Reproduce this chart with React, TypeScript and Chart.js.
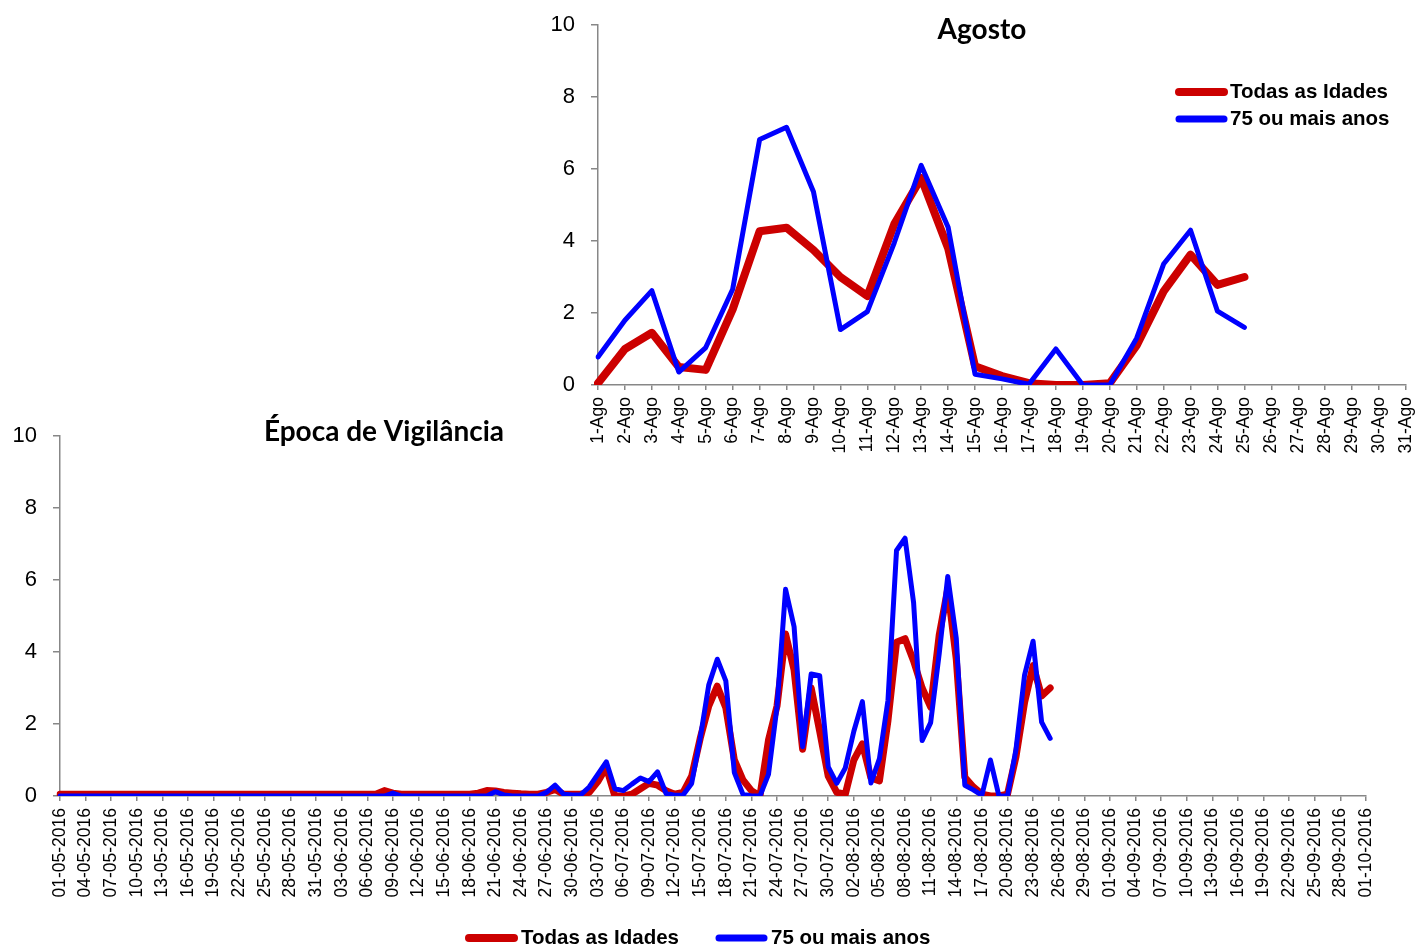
import React, { useEffect, useRef } from 'react';
import { Chart, registerables } from 'chart.js';

Chart.register(...registerables);

// ---------- data ----------
const SERIES_NAMES = ['Todas as Idades', '75 ou mais anos'];

const AUG_LABELS = [
  '1-Ago', '2-Ago', '3-Ago', '4-Ago', '5-Ago', '6-Ago', '7-Ago', '8-Ago', '9-Ago', '10-Ago',
  '11-Ago', '12-Ago', '13-Ago', '14-Ago', '15-Ago', '16-Ago', '17-Ago', '18-Ago', '19-Ago', '20-Ago',
  '21-Ago', '22-Ago', '23-Ago', '24-Ago', '25-Ago', '26-Ago', '27-Ago', '28-Ago', '29-Ago', '30-Ago', '31-Ago',
];

const AUG_TODAS = [
  0.05, 1.0, 1.45, 0.5, 0.42, 2.1, 4.27, 4.37, 3.75, 3.0,
  2.47, 4.47, 5.75, 3.8, 0.52, 0.25, 0.05, 0.0, 0.0, 0.05,
  1.1, 2.6, 3.62, 2.78, 3.0,
];

const AUG_75 = [
  0.78, 1.8, 2.62, 0.36, 1.04, 2.66, 6.82, 7.16, 5.37, 1.54,
  2.04, 3.95, 6.1, 4.38, 0.3, 0.17, 0.02, 1.0, 0.0, 0.0,
  1.3, 3.36, 4.3, 2.05, 1.6,
];

// 01-05-2016 .. 31-07-2016 (before August)
const PRE_AUG_TODAS = [
  0.05, 0.05, 0.05, 0.05, 0.05, 0.05, 0.05, 0.05, 0.05, 0.05,
  0.05, 0.05, 0.05, 0.05, 0.05, 0.05, 0.05, 0.05, 0.05, 0.05,
  0.05, 0.05, 0.05, 0.05, 0.05, 0.05, 0.05, 0.05, 0.05, 0.05,
  0.05, 0.05, 0.05, 0.05, 0.05, 0.05, 0.05, 0.05, 0.15, 0.08,
  0.05, 0.05, 0.05, 0.05, 0.05, 0.05, 0.05, 0.05, 0.05, 0.08,
  0.15, 0.14, 0.1, 0.08, 0.06, 0.05, 0.05, 0.1, 0.18, 0.05,
  0.05, 0.05, 0.1, 0.4, 0.8, 0.0, 0.0, 0.05, 0.2, 0.35,
  0.3, 0.15, 0.05, 0.1, 0.55, 1.6, 2.5, 3.05, 2.45, 1.0,
  0.45, 0.15, 0.0, 1.55, 2.5, 4.5, 3.5, 1.3, 3.0, 1.8,
  0.55, 0.1,
];

const PRE_AUG_75 = [
  0, 0, 0, 0, 0, 0, 0, 0, 0, 0,
  0, 0, 0, 0, 0, 0, 0, 0, 0, 0,
  0, 0, 0, 0, 0, 0, 0, 0, 0, 0,
  0, 0, 0, 0, 0, 0, 0, 0, 0, 0.08,
  0, 0, 0, 0, 0, 0, 0, 0, 0, 0,
  0, 0.12, 0.03, 0, 0, 0, 0, 0.1, 0.3, 0.05,
  0.03, 0.03, 0.25, 0.6, 0.95, 0.2, 0.15, 0.33, 0.5, 0.4,
  0.67, 0.07, 0.02, 0.03, 0.35, 1.6, 3.08, 3.8, 3.2, 0.65,
  0.05, 0, 0, 0.6, 2.48, 5.74, 4.7, 1.37, 3.39, 3.34,
  0.81, 0.35,
];

const SEASON_TODAS = [...PRE_AUG_TODAS, ...AUG_TODAS];
const SEASON_75 = [...PRE_AUG_75, ...AUG_75];

// daily category labels 01-05-2016 .. 01-10-2016
const SEASON_LABELS: string[] = (() => {
  const out: string[] = [];
  const d = new Date(Date.UTC(2016, 4, 1));
  const end = Date.UTC(2016, 9, 1);
  while (d.getTime() <= end) {
    const dd = String(d.getUTCDate()).padStart(2, '0');
    const mm = String(d.getUTCMonth() + 1).padStart(2, '0');
    out.push(`${dd}-${mm}-${d.getUTCFullYear()}`);
    d.setUTCDate(d.getUTCDate() + 1);
  }
  return out;
})();

const Y_MIN = 0;
const Y_MAX = 10;
const Y_STEP = 2;

// ---------- styles ----------
const RED = '#CC0000';
const BLUE = '#0000FF';
const AXIS = '#878787';
const SANS = "'Liberation Sans', Arial, sans-serif";
const TITLE_FAMILY = "Lato, 'Open Sans', sans-serif";
const TOP_SHIFT = 20; // top canvas starts this many px above the page

const placedTitle = {
  id: 'placedTitle',
  afterDraw(chart: any, _a: any, opts: any) {
    if (!opts || !opts.text) return;
    const ctx = chart.ctx;
    ctx.save();
    ctx.font = opts.font;
    ctx.fillStyle = '#000';
    ctx.textAlign = 'center';
    ctx.textBaseline = 'middle';
    ctx.fillText(opts.text, opts.x, opts.y);
    ctx.restore();
  },
};

const keyLegend = {
  id: 'keyLegend',
  afterDatasetsDraw(chart: any, _a: any, opts: any) {
    if (!opts || !opts.display) return;
    const ctx = chart.ctx;
    ctx.save();
    ctx.font = opts.font;
    ctx.textAlign = 'left';
    ctx.textBaseline = 'middle';
    chart.data.datasets.forEach((ds: any, i: number) => {
      const x = opts.x + i * opts.colGap;
      const y = opts.y + i * opts.rowGap;
      ctx.strokeStyle = ds.borderColor;
      ctx.lineWidth = ds.keyWidth;
      ctx.lineCap = 'round';
      ctx.beginPath();
      ctx.moveTo(x, y);
      ctx.lineTo(x + opts.lineLength, y);
      ctx.stroke();
      ctx.fillStyle = '#000';
      ctx.fillText(ds.label, x + opts.lineLength + opts.gap, y);
    });
    ctx.restore();
  },
};

function makeDatasets(red: number[], blue: number[], redWidth: number, blueWidth: number) {
  return [
    {
      label: SERIES_NAMES[0], data: red, borderColor: RED, backgroundColor: RED,
      borderWidth: redWidth, keyWidth: 8, order: 1,
    },
    {
      label: SERIES_NAMES[1], data: blue, borderColor: BLUE, backgroundColor: BLUE,
      borderWidth: blueWidth, keyWidth: 7, order: 0,
    },
  ];
}

function yScale(width: number) {
  return {
    min: Y_MIN, max: Y_MAX,
    ticks: { stepSize: Y_STEP, padding: 16, color: '#000', font: { family: SANS, size: 22 } },
    grid: { drawOnChartArea: false, drawTicks: true, tickLength: 7, tickColor: AXIS, lineWidth: 1.5 },
    border: { display: true, color: AXIS, width: 1.5 },
    afterFit: (s: any) => { s.width = width; },
  };
}

function xScale(height: number) {
  return {
    offset: false,
    grid: { drawOnChartArea: false, drawTicks: true, tickLength: 5, tickColor: AXIS, lineWidth: 1.5, offset: false },
    border: { display: true, color: AXIS, width: 1.5 },
    ticks: {
      autoSkip: false, minRotation: 90, maxRotation: 90, padding: 7, color: '#000',
      font: { family: SANS, size: 17.5 },
    },
    afterFit: (s: any) => { s.height = height; },
  };
}

const commonElements = {
  point: { radius: 0, hoverRadius: 0 },
  line: { tension: 0, borderJoinStyle: 'round', borderCapStyle: 'round' },
};

export default function App() {
  const topRef = useRef<HTMLCanvasElement | null>(null);
  const bottomRef = useRef<HTMLCanvasElement | null>(null);

  useEffect(() => {
    const top = new Chart(topRef.current as HTMLCanvasElement, {
      type: 'line',
      data: { labels: AUG_LABELS, datasets: makeDatasets(AUG_TODAS, AUG_75, 8, 5) as any },
      options: {
        animation: false, responsive: false, maintainAspectRatio: false, events: [],
        layout: { padding: { left: 538, right: 54, top: 25 + TOP_SHIFT, bottom: 10 } },
        elements: commonElements as any,
        plugins: {
          legend: { display: false },
          tooltip: { enabled: false },
          placedTitle: { text: 'Agosto', x: 982, y: 30 + TOP_SHIFT, font: `bold 28px ${TITLE_FAMILY}` },
          keyLegend: {
            display: true, x: 1179, y: 92 + TOP_SHIFT, rowGap: 27, colGap: 0,
            lineLength: 45, gap: 6, font: `bold 20.5px ${SANS}`,
          },
        } as any,
        scales: {
          x: xScale(75) as any,
          y: yScale(60) as any,
        },
      },
      plugins: [placedTitle, keyLegend],
    });

    const bottom = new Chart(bottomRef.current as HTMLCanvasElement, {
      type: 'line',
      data: { labels: SEASON_LABELS, datasets: makeDatasets(SEASON_TODAS, SEASON_75, 7, 5) as any },
      options: {
        animation: false, responsive: false, maintainAspectRatio: false, events: [],
        layout: { padding: { left: 0, right: 50, top: 436, bottom: 40 } },
        elements: commonElements as any,
        plugins: {
          legend: { display: false },
          tooltip: { enabled: false },
          placedTitle: { text: 'Época de Vigilância', x: 384, y: 432, font: `bold 28px ${TITLE_FAMILY}` },
          keyLegend: {
            display: true, x: 469, y: 938, rowGap: 0, colGap: 250,
            lineLength: 45, gap: 7, font: `bold 20.5px ${SANS}`,
          },
        } as any,
        scales: {
          x: {
            ...xScale(110),
            ticks: {
              ...xScale(110).ticks,
              callback: (_v: any, i: number) => (i % 3 === 0 ? SEASON_LABELS[i] : ''),
            },
            grid: {
              ...xScale(110).grid,
              tickColor: (c: any) => (c.index % 3 === 0 ? AXIS : 'rgba(0,0,0,0)'),
            },
          } as any,
          y: yScale(60) as any,
        },
      },
      plugins: [placedTitle, keyLegend],
    });

    return () => { top.destroy(); bottom.destroy(); };
  }, []);

  return (
    <div style={{ position: 'absolute', left: 0, top: 0, width: 1416, height: 946, overflow: 'hidden', background: '#fff' }}>
      <canvas ref={bottomRef} width={1416} height={946}
        style={{ position: 'absolute', left: 0, top: 0, width: 1416, height: 946 }} />
      <canvas ref={topRef} width={1460} height={490}
        style={{ position: 'absolute', left: 0, top: -TOP_SHIFT, width: 1460, height: 490 }} />
    </div>
  );
}
